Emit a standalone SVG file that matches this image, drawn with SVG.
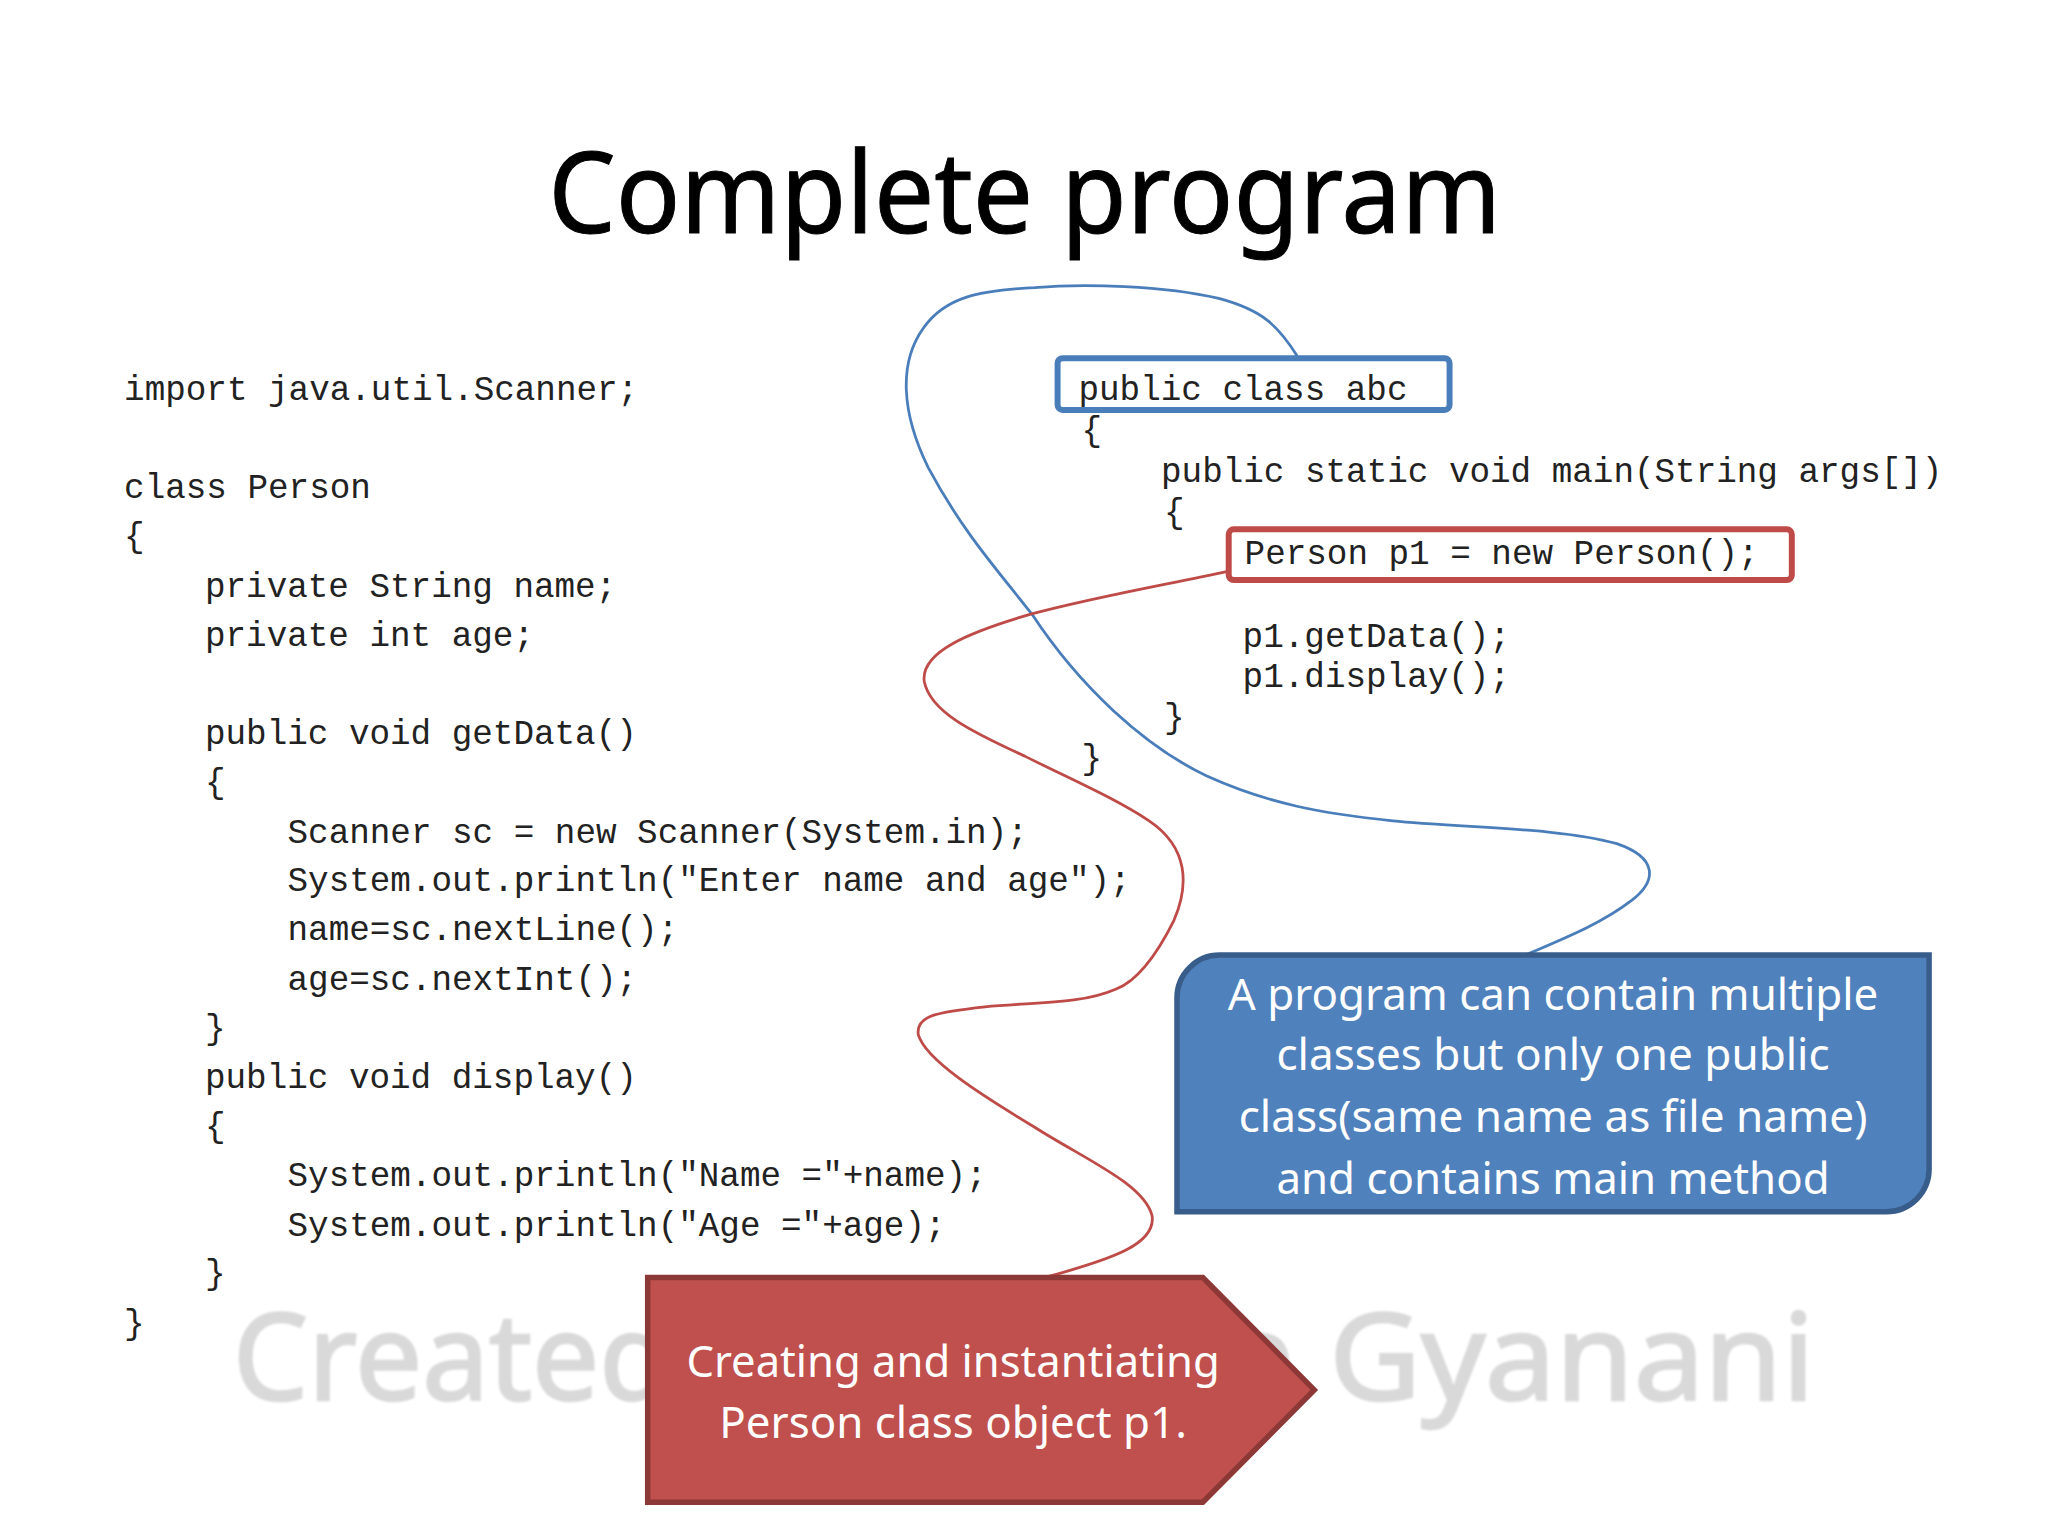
<svg xmlns="http://www.w3.org/2000/svg" width="2048" height="1536" viewBox="0 0 2048 1536">
<style>
.code{font-family:"Liberation Mono",monospace;font-size:34.45px;fill:#222;white-space:pre}
.lbl{font-family:"Noto Sans",sans-serif;font-size:44px;fill:#fff;text-anchor:middle}
.wm{font-family:"Noto Sans",sans-serif;font-size:122px;fill:#d9d9d9;stroke:#d9d9d9;stroke-width:2.5}
.conn{fill:none;stroke-width:2.8}
</style>
<defs><filter id="soft" x="-5%" y="-5%" width="110%" height="110%"><feGaussianBlur stdDeviation="1.3"/></filter></defs>
<rect width="2048" height="1536" fill="#fff"/>
<g transform="scale(0.9949)">
<text id="title" x="551" y="234" font-family="Noto Sans, sans-serif" font-size="113" fill="#000" stroke="#000" stroke-width="1" textLength="958" lengthAdjust="spacingAndGlyphs">Complete program</text>
<g id="watermark" filter="url(#soft)">
<text class="wm" x="234" y="1407" textLength="442" lengthAdjust="spacingAndGlyphs">Created</text>
<text class="wm" x="1232" y="1407">e</text>
<text class="wm" x="1336" y="1407" textLength="488" lengthAdjust="spacingAndGlyphs">Gyanani</text>
</g>
<g id="code-left">
<text class="code" x="124.7" y="402">import java.util.Scanner;</text>
<text class="code" x="124.7" y="501">class Person</text>
<text class="code" x="124.7" y="550">{</text>
<text class="code" x="206" y="600">private String name;</text>
<text class="code" x="206" y="649">private int age;</text>
<text class="code" x="206" y="748">public void getData()</text>
<text class="code" x="206" y="797">{</text>
<text class="code" x="289" y="847">Scanner sc = new Scanner(System.in);</text>
<text class="code" x="289" y="896">System.out.println("Enter name and age");</text>
<text class="code" x="289" y="945">name=sc.nextLine();</text>
<text class="code" x="289" y="995">age=sc.nextInt();</text>
<text class="code" x="206" y="1044">}</text>
<text class="code" x="206" y="1094">public void display()</text>
<text class="code" x="206" y="1143">{</text>
<text class="code" x="289" y="1192">System.out.println("Name ="+name);</text>
<text class="code" x="289" y="1242">System.out.println("Age ="+age);</text>
<text class="code" x="206" y="1291">}</text>
<text class="code" x="124.7" y="1341">}</text>
</g>
<g id="code-right">
<text class="code" x="1084" y="402">public class abc</text>
<text class="code" x="1087" y="443">{</text>
<text class="code" x="1167" y="484">public static void main(String args[])</text>
<text class="code" x="1170" y="526">{</text>
<text class="code" x="1251" y="567">Person p1 = new Person();</text>
<text class="code" x="1249" y="650">p1.getData();</text>
<text class="code" x="1249" y="691">p1.display();</text>
<text class="code" x="1170" y="732">}</text>
<text class="code" x="1087" y="773">}</text>
</g>
<g id="connectors">
<path class="conn" stroke="#4a7ebb" d="M1304,358 C1285,328 1270,312 1225,300 C1170,287 1090,285 1040,289 C985,292 950,298 928,330 C903,365 906,415 933,470 C968,535 1000,570 1037,617 C1085,690 1150,750 1213,780 C1275,808 1330,818 1400,825 C1470,832 1570,832 1625,848 C1666,862 1666,885 1640,905 C1610,928 1575,942 1533,960"/>
<path class="conn" stroke="#be4b48" d="M1235,574 C1170,588 1100,600 1037,617 C975,635 925,655 929,685 C935,715 975,735 1030,760 C1080,785 1120,802 1155,825 C1195,852 1195,890 1180,925 C1165,955 1145,985 1122,994 C1085,1010 1040,1007 990,1012 C945,1017 920,1020 923,1040 C930,1065 985,1100 1040,1133 C1090,1165 1150,1190 1158,1222 C1162,1250 1120,1265 1054,1283"/>
</g>
<g id="box-class"><rect x="1063" y="360" width="394" height="52" rx="5" fill="none" stroke="#4a7ebb" stroke-width="6"/></g>
<g id="box-new"><rect x="1235" y="532" width="566" height="51" rx="5" fill="none" stroke="#be4b48" stroke-width="6"/></g>
<g id="callout-blue">
<path d="M1226,960 H1939 V1175 A43,43 0 0 1 1896,1218 H1183 V1003 A43,43 0 0 1 1226,960 Z" fill="#4f81bd" stroke="#385d8a" stroke-width="5.5"/>
<text class="lbl" x="1561" y="1015" textLength="654" lengthAdjust="spacingAndGlyphs">A program can contain multiple</text>
<text class="lbl" x="1561" y="1076" textLength="556" lengthAdjust="spacingAndGlyphs">classes but only one public</text>
<text class="lbl" x="1561" y="1138" textLength="632" lengthAdjust="spacingAndGlyphs">class(same name as file name)</text>
<text class="lbl" x="1561" y="1200" textLength="556" lengthAdjust="spacingAndGlyphs">and contains main method</text>
</g>
<g id="callout-red">
<path d="M651,1284 H1209 L1321,1397 L1209,1510 H651 Z" fill="#c0504d" stroke="#8c3836" stroke-width="5.5"/>
<text class="lbl" x="958" y="1384" textLength="536" lengthAdjust="spacingAndGlyphs">Creating and instantiating</text>
<text class="lbl" x="958" y="1445" textLength="470" lengthAdjust="spacingAndGlyphs">Person class object p1.</text>
</g>
</g>
</svg>
